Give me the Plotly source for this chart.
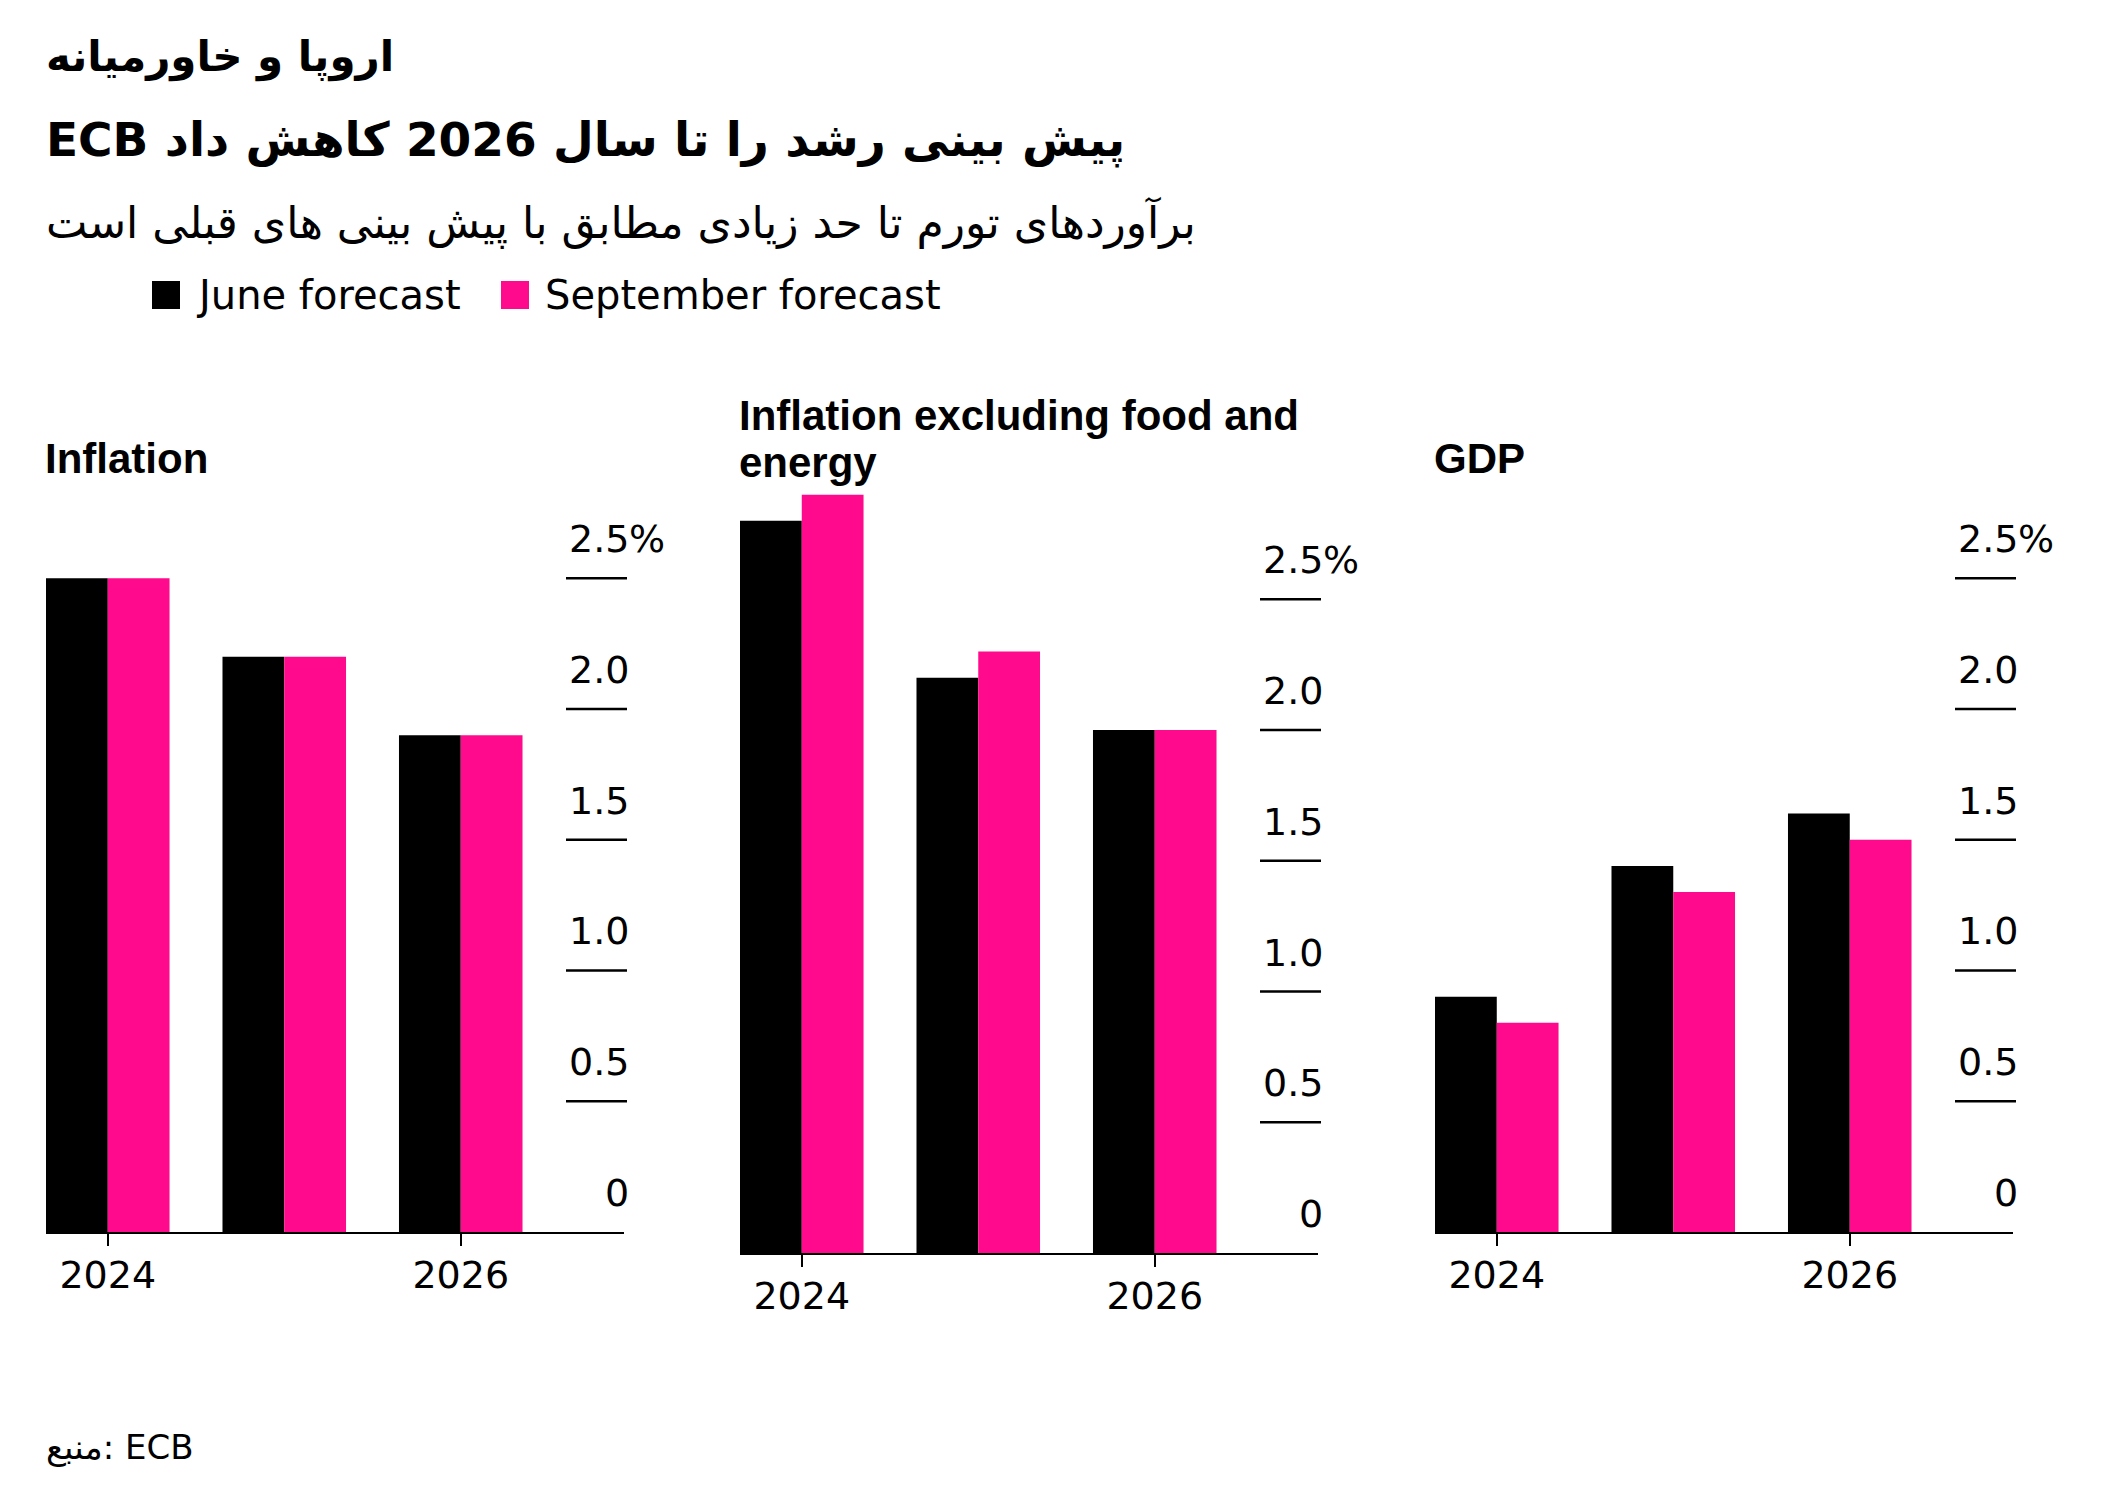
import plotly.graph_objects as go

# ---------------- data ----------------
years = ["2024", "2025", "2026"]
xtick_labels = ["2024", "2026"]
series_names = ["June forecast", "September forecast"]
panel_titles = [["Inflation"], ["Inflation excluding food and", "energy"], ["GDP"]]

june_inflation = [2.5, 2.2, 1.9]
sept_inflation = [2.5, 2.2, 1.9]
june_core = [2.8, 2.2, 2.0]
sept_core = [2.9, 2.3, 2.0]
june_gdp = [0.9, 1.4, 1.6]
sept_gdp = [0.8, 1.3, 1.5]

y_ticks = [0, 0.5, 1.0, 1.5, 2.0, 2.5]
y_tick_labels = ["0", "0.5", "1.0", "1.5", "2.0", "2.5"]

kicker = "اروپا و خاورمیانه"
title = "ECB پیش بینی رشد را تا سال 2026 کاهش داد"
subtitle = "برآوردهای تورم تا حد زیادی مطابق با پیش بینی های قبلی است"
source = "منبع: ECB"

# ---------------- style ----------------
W, H = 2125, 1498
BLACK = "#000000"
PINK = "#ff0a8c"
SANS = "DejaVu Sans"
BOLD = "Liberation Sans"
colors = [BLACK, PINK]

PANEL_LEFT = [46, 740, 1435]
PANEL_W = 578
BASELINE = [1232, 1253, 1232]
PX_PER_UNIT = 261.5
Y_MAX = 3.0


def fx(px):
    return px / W


def fy(py):
    return 1 - py / H


fig = go.Figure()

panel_data = [
    (june_inflation, sept_inflation),
    (june_core, sept_core),
    (june_gdp, sept_gdp),
]

layout = dict(
    width=W,
    height=H,
    margin=dict(l=0, r=0, t=0, b=0),
    paper_bgcolor="white",
    plot_bgcolor="white",
    barmode="group",
    bargap=0.3,
    bargroupgap=0,
    showlegend=False,
    font=dict(family=SANS, color=BLACK),
)

shapes = []
annotations = []

for i, (june, sept) in enumerate(panel_data):
    sfx = "" if i == 0 else str(i + 1)
    xa, ya = "x" + sfx, "y" + sfx
    for name, vals, col in zip(series_names, (june, sept), colors):
        fig.add_trace(
            go.Bar(
                x=years,
                y=vals,
                name=name,
                marker=dict(color=col, line=dict(width=0)),
                xaxis=xa,
                yaxis=ya,
                hovertemplate="%{x}: %{y}%<extra>" + name + "</extra>",
            )
        )
    left = PANEL_LEFT[i]
    base = BASELINE[i]
    top = base - PX_PER_UNIT * Y_MAX
    layout["xaxis" + sfx] = dict(
        domain=[fx(left), fx(left + PANEL_W)],
        anchor=ya,
        type="category",
        range=[-0.35, 2.925],
        tickmode="array",
        tickvals=xtick_labels,
        ticktext=xtick_labels,
        ticks="outside",
        ticklen=12,
        tickwidth=2,
        tickcolor=BLACK,
        ticklabelstandoff=-4,
        showline=True,
        linecolor=BLACK,
        linewidth=2,
        showgrid=False,
        zeroline=False,
        tickfont=dict(family=SANS, size=38, color=BLACK),
        fixedrange=True,
    )
    layout["yaxis" + sfx] = dict(
        domain=[fy(base), fy(top)],
        anchor=xa,
        range=[0, Y_MAX],
        showgrid=False,
        zeroline=False,
        showticklabels=False,
        showline=False,
        ticks="",
        fixedrange=True,
    )
    # short grid segments and labels for the value axis (right side)
    for v, lab in zip(y_ticks, y_tick_labels):
        if v > 0:
            shapes.append(
                dict(
                    type="line",
                    xref=xa + " domain",
                    yref=ya,
                    x0=520 / PANEL_W,
                    x1=581 / PANEL_W,
                    y0=v,
                    y1=v,
                    line=dict(color=BLACK, width=2.5),
                )
            )
        annotations.append(
            dict(
                xref=xa + " domain",
                yref=ya,
                x=1.0,
                y=v,
                text=lab,
                showarrow=False,
                xanchor="right",
                yanchor="middle",
                yshift=39,
                xshift=7,
                font=dict(family=SANS, size=38, color=BLACK),
            )
        )
        if v == y_ticks[-1]:
            annotations.append(
                dict(
                    xref=xa + " domain",
                    yref=ya,
                    x=1.0,
                    y=v,
                    text="%",
                    showarrow=False,
                    xanchor="left",
                    yanchor="middle",
                    yshift=39,
                    xshift=3,
                    font=dict(family=SANS, size=38, color=BLACK),
                )
            )
    # panel title (one annotation per line)
    lines = panel_titles[i]
    last_line_y = 458 if len(lines) == 1 else 463
    for k, line in enumerate(lines):
        annotations.append(
            dict(
                xref="paper",
                yref="paper",
                x=fx(left - 3),
                y=fy(last_line_y - 48 * (len(lines) - 1 - k)),
                text="<b>" + line + "</b>",
                showarrow=False,
                xanchor="left",
                yanchor="middle",
                align="left",
                font=dict(family=BOLD, size=42, color=BLACK),
            )
        )

# header texts
annotations += [
    dict(xref="paper", yref="paper", x=fx(44), y=fy(57), text="<b>" + kicker + "</b>",
         showarrow=False, xanchor="left", yanchor="middle",
         font=dict(family=SANS, size=42, color=BLACK)),
    dict(xref="paper", yref="paper", x=fx(44), y=fy(140), text="<b>" + title + "</b>",
         showarrow=False, xanchor="left", yanchor="middle",
         font=dict(family=SANS, size=47, color=BLACK)),
    dict(xref="paper", yref="paper", x=fx(44), y=fy(222), text=subtitle,
         showarrow=False, xanchor="left", yanchor="middle",
         font=dict(family=SANS, size=44, color=BLACK)),
    dict(xref="paper", yref="paper", x=fx(44), y=fy(1447), text=source,
         showarrow=False, xanchor="left", yanchor="middle",
         font=dict(family=SANS, size=34, color=BLACK)),
]

# legend keys
legend_x = [152, 501]
for name, col, lx in zip(series_names, colors, legend_x):
    shapes.append(dict(type="rect", xref="paper", yref="paper",
                       x0=fx(lx), x1=fx(lx + 28), y0=fy(309), y1=fy(281),
                       fillcolor=col, line=dict(width=0)))
    annotations.append(dict(xref="paper", yref="paper", x=fx(lx + 42), y=fy(295),
                            text=name, showarrow=False, xanchor="left", yanchor="middle",
                            font=dict(family=SANS, size=40, color=BLACK)))

layout["shapes"] = shapes
layout["annotations"] = annotations
fig.update_layout(**layout)

fig.write_html(
    "out.html",
    config={"displayModeBar": False},
    post_script="document.body.style.margin='0';document.body.style.overflow='hidden';",
)
